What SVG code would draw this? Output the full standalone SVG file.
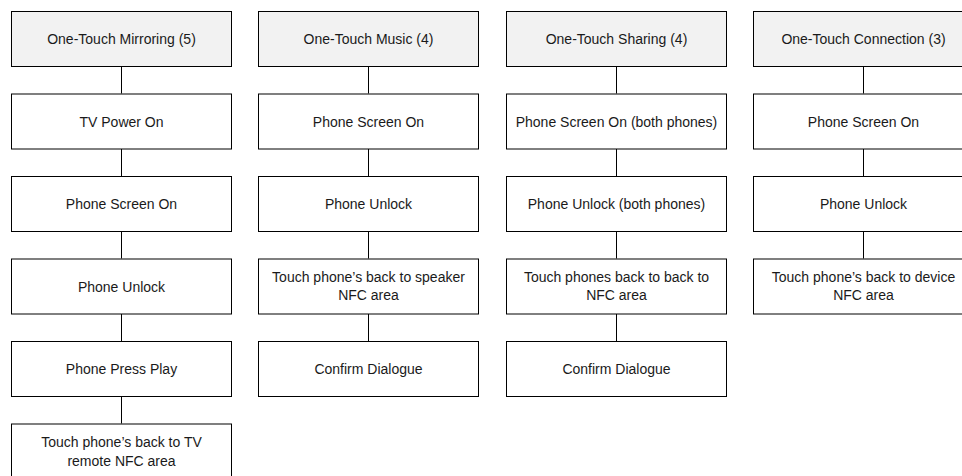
<svg xmlns="http://www.w3.org/2000/svg" width="962" height="476" viewBox="0 0 962 476">
<style>
.box{fill:#ffffff;stroke:#000000;stroke-width:1}
.hdr{fill:#f2f2f2;stroke:#000000;stroke-width:1}
.t{font-family:"Liberation Sans",Arial,sans-serif;font-size:14px;fill:#1a1a1a;text-anchor:middle}
.c{stroke:#000000;stroke-width:1;fill:none}
</style>
<rect width="962" height="476" fill="#ffffff"/>
<g id="connectors">
<path class="c" d="M121.5 66V93.5M121.5 148.5V176M121.5 231V258.5M121.5 313.5V341M121.5 396V423.5"/>
<path class="c" d="M368.5 66V93.5M368.5 148.5V176M368.5 231V258.5M368.5 313.5V341"/>
<path class="c" d="M616.5 66V93.5M616.5 148.5V176M616.5 231V258.5M616.5 313.5V341"/>
<path class="c" d="M863.5 66V93.5M863.5 148.5V176M863.5 231V258.5"/>
</g>
<g id="mirroring">
<rect class="hdr" x="11.5" y="11.5" width="220" height="55"/>
<text class="t" x="121.5" y="44">One-Touch Mirroring (5)</text>
</g>
<g id="m1"><rect class="box" x="11.5" y="94" width="220" height="55"/><text class="t" x="121.5" y="126.5">TV Power On</text></g>
<g id="m2"><rect class="box" x="11.5" y="176.5" width="220" height="55"/><text class="t" x="121.5" y="209">Phone Screen On</text></g>
<g id="m3"><rect class="box" x="11.5" y="259" width="220" height="55"/><text class="t" x="121.5" y="291.5">Phone Unlock</text></g>
<g id="m4"><rect class="box" x="11.5" y="341.5" width="220" height="55"/><text class="t" x="121.5" y="374">Phone Press Play</text></g>
<g id="m5"><rect class="box" x="11.5" y="424" width="220" height="55"/><text class="t" x="121.5" y="446.5">Touch phone’s back to TV</text><text class="t" x="121.5" y="466">remote NFC area</text></g>

<g id="music">
<rect class="hdr" x="258.5" y="11.5" width="220" height="55"/>
<text class="t" x="368.5" y="44">One-Touch Music (4)</text>
</g>
<g id="mu1"><rect class="box" x="258.5" y="94" width="220" height="55"/><text class="t" x="368.5" y="126.5">Phone Screen On</text></g>
<g id="mu2"><rect class="box" x="258.5" y="176.5" width="220" height="55"/><text class="t" x="368.5" y="209">Phone Unlock</text></g>
<g id="mu3"><rect class="box" x="258.5" y="259" width="220" height="55"/><text class="t" x="368.5" y="282">Touch phone’s back to speaker</text><text class="t" x="368.5" y="300">NFC area</text></g>
<g id="mu4"><rect class="box" x="258.5" y="341.5" width="220" height="55"/><text class="t" x="368.5" y="374">Confirm Dialogue</text></g>

<g id="sharing">
<rect class="hdr" x="506.5" y="11.5" width="220" height="55"/>
<text class="t" x="616.5" y="44">One-Touch Sharing (4)</text>
</g>
<g id="s1"><rect class="box" x="506.5" y="94" width="220" height="55"/><text class="t" x="616.5" y="126.5">Phone Screen On (both phones)</text></g>
<g id="s2"><rect class="box" x="506.5" y="176.5" width="220" height="55"/><text class="t" x="616.5" y="209">Phone Unlock (both phones)</text></g>
<g id="s3"><rect class="box" x="506.5" y="259" width="220" height="55"/><text class="t" x="616.5" y="282">Touch phones back to back to</text><text class="t" x="616.5" y="300">NFC area</text></g>
<g id="s4"><rect class="box" x="506.5" y="341.5" width="220" height="55"/><text class="t" x="616.5" y="374">Confirm Dialogue</text></g>

<g id="connection">
<rect class="hdr" x="753.5" y="11.5" width="220" height="55"/>
<text class="t" x="863.5" y="44">One-Touch Connection (3)</text>
</g>
<g id="c1"><rect class="box" x="753.5" y="94" width="220" height="55"/><text class="t" x="863.5" y="126.5">Phone Screen On</text></g>
<g id="c2"><rect class="box" x="753.5" y="176.5" width="220" height="55"/><text class="t" x="863.5" y="209">Phone Unlock</text></g>
<g id="c3"><rect class="box" x="753.5" y="259" width="220" height="55"/><text class="t" x="863.5" y="282">Touch phone’s back to device</text><text class="t" x="863.5" y="300">NFC area</text></g>
</svg>
